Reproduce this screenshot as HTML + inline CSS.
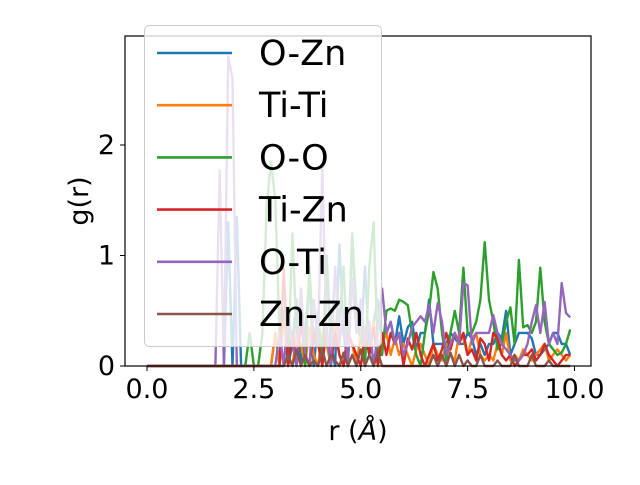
<!DOCTYPE html>
<html><head><meta charset="utf-8"><style>
html,body{margin:0;padding:0;background:#fff}
svg text{font-family:"DejaVu Sans","Liberation Sans",sans-serif;fill:#000}
</style></head><body>
<svg width="640" height="480" viewBox="0 0 640 480" xmlns="http://www.w3.org/2000/svg">
<g id="plot"></g>
</svg>
<script>
const rValues = Array.from({length:100},(_, i)=>+(i*0.1).toFixed(1));
const seriesNames = ["O-Zn","Ti-Ti","O-O","Ti-Zn","O-Ti","Zn-Zn"];
const seriesColors = ["#1f77b4","#ff7f0e","#2ca02c","#d62728","#9467bd","#8c564b"];
const oZn = [0,0,0,0,0,0,0,0,0,0, 0,0,0,0,0,0,0,0,0,1.3, 0,1.35,0,0,0,0,0,0,0,0,
 0.3,0,0.5,0,0.2,0.6,0,0.3,0.8,0, 0.4,0,0.9,0.2,0,1.1,0.3,0,1.2,0.5,
 0.2,0.9,0.1,0.4,0.6,0.2,0.3,0.4,0.2,0.45, 0.2,0.35,0.4,0.15,0.3,0.3,0.6,0.2,0.2,0.2,
 0.2,0.3,0.25,0.2,0.2,0.3,0.25,0.1,0.2,0.1, 0.2,0.2,0.3,0.25,0.5,0.1,0.2,0.3,0.3,0.3,
 0.25,0.1,0.1,0.15,0.2,0.3,0.3,0.2,0.2,0.1];
const tiTi = [0,0,0,0,0,0,0,0,0,0, 0,0,0,0,0,0,0,0,0,0, 0,0,0,0,0,0,0,0,0,0,
 0.3,0,0.4,0.1,0,0.3,0.2,0,0.35,0.1, 0,0.3,0.2,0,0.4,0.1,0,0.3,0.2,0,
 0.3,0.35,0.1,0.4,0,0.2,0.3,0.1,0.25,0.1, 0.2,0.1,0,0.15,0.2,0.1,0,0.2,0.1,0.05,
 0.2,0.1,0.05,0.3,0.25,0.1,0.25,0.3,0.1,0.05, 0.1,0.05,0.2,0.1,0.3,0.05,0.1,0.05,0.15,0.1,
 0.05,0.1,0.15,0.2,0.05,0.1,0.15,0.1,0.05,0.1];
const oO = [0,0,0,0,0,0,0,0,0,0, 0,0,0,0,0,0,0,0,0,0, 0,0,0,0,0.3,0,0,0.3,1.45,1.85,
 1.5,0.3,0.8,0,1.2,0.3,0.6,0,0.9,0.2, 0.5,0,1.0,0.3,0.8,0.4,0.9,0,1.2,0.3,
 0.6,0,0.9,1.3,0.1,0.1,0.5,0.52,0.5,0.6, 0.58,0.55,0.3,0.1,0,0.3,0.5,0.85,0.7,0.3,
 0.05,0.3,0.5,0.3,0.89,0.3,0.3,0.4,0.6,1.12, 0.6,0.4,0.15,0.2,0.4,0.53,0.2,0.96,0.35,0.37,
 0.3,0.4,0.89,0.4,0.2,0.15,0.1,0.12,0.2,0.33];
const tiZn = [0,0,0,0,0,0,0,0,0,0, 0,0,0,0,0,0,0,0,0,0, 0,0,0,0,0,0,0,0,0,0,
 0,0,0.88,0,0.3,0,0.4,0.1,0,0.3, 0.2,0,0.35,0,0.3,0.1,0,0.3,0.2,0.1,
 0,0.3,0.1,0.35,0,0.3,0.1,0.3,0.2,0.3, 0,0.25,0.15,0.3,0.1,0,0.1,0.2,0.05,0.15,
 0.3,0.15,0.3,0.2,0.3,0.1,0.15,0.05,0.25,0.2, 0.05,0.3,0.25,0.1,0.05,0.1,0,0.05,0.1,0.1,
 0.15,0.05,0.1,0.2,0.1,0.05,0,0.05,0.1,0.1];
const oTi = [0,0,0,0,0,0,0,0,0,0, 0,0,0,0,0,0,0,1.77,0,2.8, 2.6,0,0,0,0,0,0,0,0,0,
 0,0.3,0,0.5,0.2,0,0.7,0.1,0,0.6, 0.2,1.8,0.3,0,0.9,0.2,0.5,0,0.8,0.3,
 0.6,0.2,0.4,0,0.3,0.7,0.3,0.4,0.2,0.3, 0.1,0.2,0.35,0.4,0.45,0.4,0.55,0.3,0.57,0.4,
 0.1,0.2,0.3,0.2,0.75,0.73,0.2,0.3,0.3,0.3, 0.3,0.46,0.3,0.2,0.15,0.1,0.05,0.05,0.1,0.2,
 0.4,0.55,0.3,0.58,0.2,0.3,0.2,0.75,0.48,0.44];
const znZn = [0,0,0,0,0,0,0,0,0,0, 0,0,0,0,0,0,0,0,0,0, 0,0,0,0,0,0,0,0,0,0,
 0,0,0,0.1,0,0.15,0,0.1,0,0.05, 0,0.15,0,0.1,0.05,0,0.12,0,0.1,0,
 0.15,0,0.1,0,0.12,0,0,0,0,0, 0,0,0,0,0,0,0,0.1,0,0.1,
 0,0.12,0,0.1,0,0.05,0,0,0.1,0, 0,0,0.05,0,0,0,0.1,0,0,0,
 0.1,0,0,0,0.05,0,0,0,0,0];
const xTicks = [0,2.5,5,7.5,10];
const xTickLabels = ["0.0","2.5","5.0","7.5","10.0"];
const yTicks = [0,1,2];
const yTickLabels = ["0","1","2"];

const NS="http://www.w3.org/2000/svg";
const g=document.getElementById('plot');
const L=125,R=591,T=36,B=366;
const sx=v=>147+v*42.75;
const sy=v=>366-v*110.5;
function mk(tag,attrs,parent){const e=document.createElementNS(NS,tag);for(const k in attrs)e.setAttribute(k,attrs[k]);(parent||g).appendChild(e);return e;}
const all=[oZn,tiTi,oO,tiZn,oTi,znZn];
all.forEach((s,k)=>{
  const d=s.map((v,i)=>(i?'L':'M')+sx(rValues[i]).toFixed(1)+','+sy(v).toFixed(1)).join('');
  const p=mk('path',{d:d,fill:'none',stroke:seriesColors[k],'stroke-width':2.4,'stroke-linejoin':'round'});
  
  
});
const frame=mk('rect',{x:L,y:T,width:R-L,height:B-T,fill:'none',stroke:'#000','stroke-width':1.2});


xTicks.forEach((v,i)=>{
  const t=mk('line',{x1:sx(v),x2:sx(v),y1:B,y2:B+5,stroke:'#000','stroke-width':1});
  
  
  const tx=mk('text',{x:sx(v),y:B+32,'text-anchor':'middle','font-size':27});
  tx.textContent=xTickLabels[i];
  
  
});
yTicks.forEach((v,i)=>{
  const t=mk('line',{x1:L-5,x2:L,y1:sy(v),y2:sy(v),stroke:'#000','stroke-width':1});
  
  
  const tx=mk('text',{x:L-10,y:sy(v)+9,'text-anchor':'end','font-size':27});
  tx.textContent=yTickLabels[i];
  
  
});
const xl=mk('text',{x:358,y:440,'text-anchor':'middle','font-size':27});
xl.innerHTML='r (<tspan font-style="italic">Å</tspan>)';


const yl=mk('text',{x:0,y:0,'text-anchor':'middle','font-size':27,transform:'translate(88,201) rotate(-90)'});
yl.textContent='g(r)';


const lg=mk('g',{});


const lb=mk('rect',{x:144.5,y:25.5,width:237,height:321,rx:5,fill:'#fff','fill-opacity':0.8,stroke:'#ccc','stroke-width':1},lg);


seriesNames.forEach((n,k)=>{
  const y=53+k*52.2;
  const ln=mk('line',{x1:157,x2:232,y1:y,y2:y,stroke:seriesColors[k],'stroke-width':2.6},lg);
  
  
  const tx=mk('text',{x:259,y:y+12,'font-size':35},lg);
  tx.textContent=n;
  
  
});
</script>
</body></html>
